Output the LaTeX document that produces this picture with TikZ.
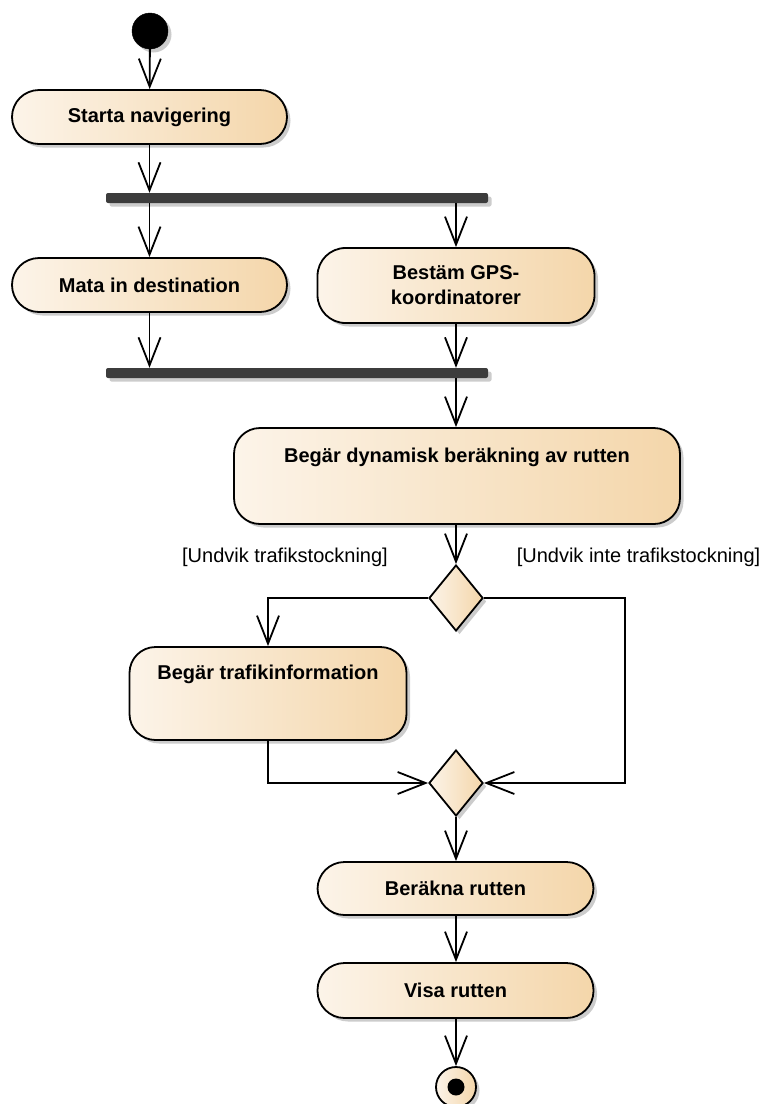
\documentclass[tikz,border=0pt]{standalone}
\usepackage{fontspec}
\setmainfont{Liberation Sans}
\usetikzlibrary{arrows.meta,shapes.geometric,shadows}
\definecolor{actL}{HTML}{FCF4E9}
\definecolor{actR}{HTML}{F4D6AA}
\definecolor{barC}{HTML}{3C3C3C}
\tikzset{
  shad/.style={drop shadow={shadow xshift=3.5pt,shadow yshift=-3.5pt,fill=black!20,opacity=1}},
  act/.style={rectangle, rounded corners=#1, draw=black, line width=1.8pt,
    left color=actL, right color=actR, shad, inner sep=0pt,
    font=\bfseries\fontsize{20}{25}\selectfont, align=center},
  act/.default=27pt,
  bar/.style={rectangle, rounded corners=2pt, fill=barC, shad, inner sep=0pt,
    minimum width=382pt, minimum height=10pt},
  dec/.style={diamond, draw=black, line width=1.8pt, left color=actL, right color=actR,
    shad, inner sep=0pt, minimum width=54pt, minimum height=66pt},
  startn/.style={circle, fill=black, draw=black, shad, inner sep=0pt, minimum size=36pt},
  endo/.style={circle, draw=black, line width=1.8pt, left color=actL, right color=actR,
    shad, inner sep=0pt, minimum size=40pt},
  endi/.style={circle, fill=black, inner sep=0pt, minimum size=17pt},
  guard/.style={font=\fontsize{20}{24}\selectfont, inner sep=0pt},
  flow/.style={line width=1.8pt, -{Straight Barb[length=28pt,width=22pt,line width=1.8pt]}}
}
\begin{document}
\begin{tikzpicture}[x=1pt,y=-1pt]
\useasboundingbox (0,0) rectangle (764,1104);
% nodes
\node[startn] (s) at (150,31) {};
\node[act, minimum width=275pt, minimum height=54pt] (a1) at (149.5,117) {Starta navigering};
\node[bar] (f1) at (297,198) {};
\node[act, minimum width=275pt, minimum height=54pt] (a2) at (149.5,285) {Mata in destination};
\node[act=28pt, minimum width=277pt, minimum height=75pt] (a3) at (456,285.5) {Bestäm GPS-\\koordinatorer};
\node[bar] (f2) at (297,373) {};
\node[act=26pt, minimum width=446pt, minimum height=96pt,
  label={[font=\bfseries\fontsize{20}{25}\selectfont, anchor=center, yshift=-30pt]north:Begär dynamisk beräkning av rutten}] (a4) at (457,476) {};
\node[guard] (g1) at (285,557) {[Undvik trafikstockning]};
\node[guard] (g2) at (638.5,557) {[Undvik inte trafikstockning]};
\node[dec] (d1) at (456,598) {};
\node[act=26pt, minimum width=277pt, minimum height=93pt,
  label={[font=\bfseries\fontsize{20}{25}\selectfont, anchor=center, yshift=-28pt]north:Begär trafikinformation}] (a5) at (268,693.5) {};
\coordinate (rc) at (625,783);
\node[dec] (d2) at (456,783) {};
\node[act, minimum width=276pt, minimum height=53pt] (a6) at (455.5,888.5) {Beräkna rutten};
\node[act, minimum width=276pt, minimum height=55pt] (a7) at (455.5,990.5) {Visa rutten};
\node[endo] (e) at (456,1087) {};
\node[endi] (ei) at (e) {};
% connectors
\draw[flow] (s) -- (a1);
\draw[flow] (a1.south) -- (a1.south |- f1.north);
\draw[flow] (a1.south |- f1.south) -- (a2);
\draw[flow] (a3.north |- f1.south) -- (a3);
\draw[flow] (a2.south) -- (a2.south |- f2.north);
\draw[flow] (a3.south) -- (a3.south |- f2.north);
\draw[flow] (d1.north |- f2.south) -- (d1.north |- a4.north);
\draw[flow] (d1.north |- a4.south) -- (d1.north);
\draw[flow] (d1.west) -| (a5.north);
\draw[flow] (d1.east) -| (rc) -- (d2.east);
\draw[flow] (a5.south) |- (d2.west);
\draw[flow] (d2.south) -- (d2.south |- a6.north);
\draw[flow] (d2.south |- a6.south) -- (d2.south |- a7.north);
\draw[flow] (d2.south |- a7.south) -- (e.north);
\end{tikzpicture}
\end{document}
